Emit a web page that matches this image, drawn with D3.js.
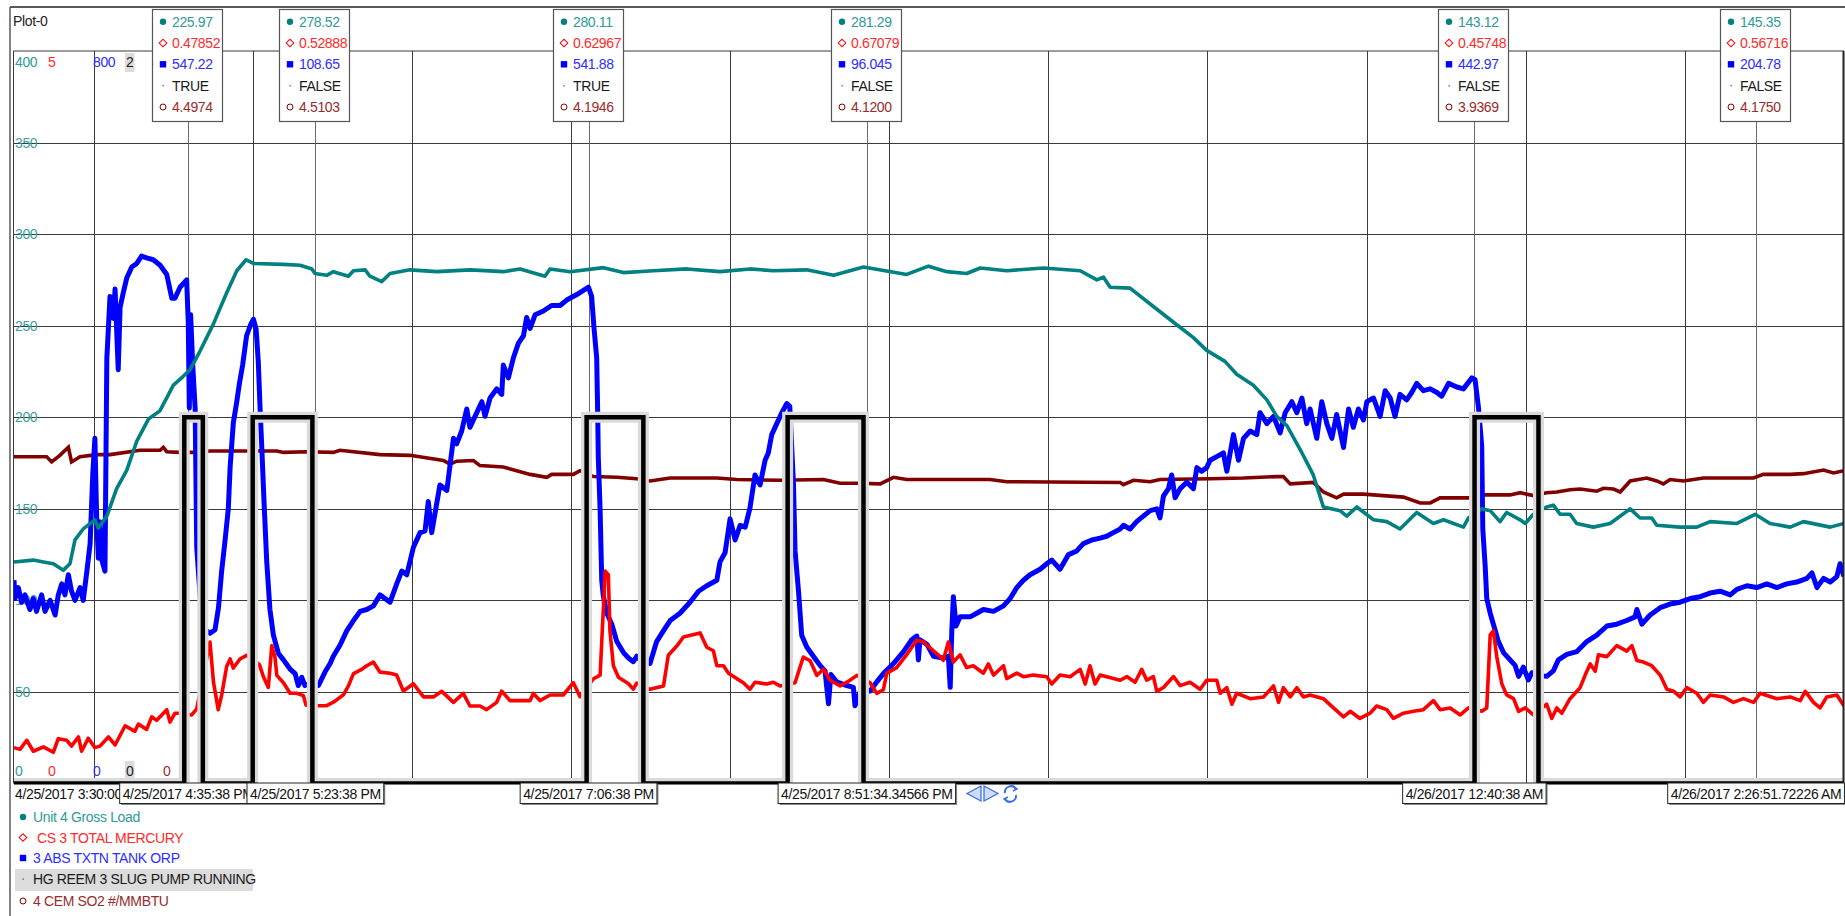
<!DOCTYPE html>
<html>
<head>
<meta charset="utf-8">
<script src="https://cdn.jsdelivr.net/npm/d3@7"></script>
<style>
  body { margin: 0; background: #fff; }
  svg { display: block; font-family: "Liberation Sans", Arial, sans-serif; }
  svg text { letter-spacing: -0.35px; }
</style>
</head>
<body>
<div id="trend"></div>
<script>
// time window of the trend, series times are minutes after startTime
const startTime = new Date(2017, 3, 25, 15, 30, 0);
const endTime = new Date(2017, 3, 26, 3, 0, 0);
const startLabel = "4/25/2017 3:30:00";

const seriesNames = ["Unit 4 Gross Load", "CS 3 TOTAL MERCURY", "3 ABS TXTN TANK ORP", "HG REEM 3 SLUG PUMP RUNNING", "4 CEM SO2 #/MMBTU"];
const lineColors = ["#008080", "#ff0000", "#0000ff", "#000000", "#800000"];
const textColors = ["#2f9a9a", "#ff2a2a", "#2e2eff", "#1a1a1a", "#982c2c"];
const scaleMax = [400, 5, 800, 2, 10];
const scaleMin = [0, 0, 0, 0, 0];
const loadTicks = [50, 100, 150, 200, 250, 300, 350];

// cursors and their readouts
const cursorLabels = ["4/25/2017 4:35:38 PM", "4/25/2017 5:23:38 PM", "4/25/2017 7:06:38 PM", "4/25/2017 8:51:34.34566 PM", "4/26/2017 12:40:38 AM", "4/26/2017 2:26:51.72226 AM"];
const loadRead = ["225.97", "278.52", "280.11", "281.29", "143.12", "145.35"];
const hgRead = ["0.47852", "0.52888", "0.62967", "0.67079", "0.45748", "0.56716"];
const orpRead = ["547.22", "108.65", "541.88", "96.045", "442.97", "204.78"];
const pumpRead = ["TRUE", "FALSE", "TRUE", "FALSE", "FALSE", "FALSE"];
const so2Read = ["4.4974", "4.5103", "4.1946", "4.1200", "3.9369", "4.1750"];

// Unit 4 Gross Load [minute, MW]
const loadPts = [[0,121],[7.3,122],[11.1,121],[14.8,120],[18.6,116.5],[21.1,120],[23,133],[26.1,139],[30.5,144],[31.8,139.5],[35,146],[38.7,161],[42.5,171],[46.3,187],[50.7,199],[55,203.5],[60.1,217.5],[63.9,222.5],[66.4,226],[70.1,236],[75.2,251],[80.2,268],[84,280],[87.5,286],[90.2,284],[101.6,283.5],[107.9,283],[112.3,281],[113.5,278.5],[117.9,277.5],[120.4,279.5],[126.1,277],[128,280],[132.4,280.5],[134.2,277],[138.6,274],[141.8,278.5],[149.3,280.5],[159.4,279.5],[172,280.5],[184.5,279.5],[190.8,281],[200.2,277],[202.1,281],[209.7,279.5],[222.2,281.7],[229.8,279],[241.1,280],[253.7,281],[266.2,279.5],[277.5,281],[286.3,280],[298.9,280.5],[309,277.5],[320.3,282],[336.6,278],[344.8,282.5],[351.7,279.5],[359.2,278.5],[364.3,281.5],[374.3,280],[388.2,281.5],[402,280],[408.3,275],[410.8,276.5],[413.3,271],[420.8,270.5],[429.6,260.5],[438.4,250.5],[444.7,243.5],[449.7,236.5],[456.6,230.5],[461,223.5],[467.3,217.5],[472.4,209.5],[476.1,200.5],[479.9,195.5],[484.9,182.5],[489.9,168.5],[493.7,151],[500,149],[502.5,146],[506.3,151],[512.6,144],[517.6,143],[522.6,139],[528.9,148],[535.2,142],[539,144],[546.5,140],[548.4,145],[553.4,150],[556.6,149],[560.3,143],[562.8,148],[567.9,144],[569.8,142],[572.9,147],[577.9,151],[580.4,152],[583,147],[586.7,147],[589.2,142],[595.5,140],[601.8,142],[609.4,150],[613.1,145],[617.5,145],[619.4,141],[628.2,140],[634.5,140],[639.5,143],[649.6,142],[656.5,147],[662.1,142],[669.7,140],[674.7,143],[684.8,140],[690,142]];

// CS 3 TOTAL MERCURY [minute, value]
const hgPts = [[0,0.245],[2.3,0.233],[4.8,0.295],[7.3,0.22],[11.1,0.25],[14.8,0.213],[16.7,0.306],[19.9,0.295],[21.7,0.256],[24.3,0.318],[25.5,0.22],[28,0.309],[30.5,0.245],[32.4,0.255],[35.6,0.318],[38.1,0.263],[41.9,0.394],[45.6,0.356],[46.9,0.406],[50,0.369],[51.9,0.455],[53.8,0.431],[57.6,0.504],[58.8,0.419],[60.7,0.48],[62.6,0.48],[67,0.468],[68.9,0.509],[73.9,0.965],[75.2,0.694],[77,0.504],[78.3,0.603],[80.2,0.8],[81.5,0.85],[82.7,0.788],[85.2,0.85],[87.7,0.875],[92.5,0.813],[94,0.731],[95.9,0.656],[97.2,0.941],[98.4,0.863],[99.1,0.738],[101.6,0.688],[104.1,0.616],[106.6,0.616],[109.1,0.6],[110.1,0.535],[114.8,0.531],[117.9,0.531],[120.4,0.555],[124.2,0.605],[126.1,0.666],[128,0.75],[131.1,0.779],[133,0.804],[135.5,0.829],[138,0.76],[141.8,0.753],[144.3,0.74],[146.8,0.631],[150.6,0.681],[154.4,0.591],[158.1,0.591],[161.3,0.629],[165.7,0.554],[169.4,0.615],[171.9,0.529],[175.7,0.529],[178.2,0.504],[182,0.554],[183.9,0.631],[187,0.566],[194.6,0.566],[195.8,0.615],[198.3,0.566],[202.1,0.604],[207.1,0.604],[210.9,0.688],[213.4,0.593],[218.5,0.715],[221,0.74],[222.9,1.45],[224.1,1.425],[224.7,1.041],[226,0.804],[227.9,0.725],[231.7,0.681],[233.5,0.644],[234.8,0.685],[239.8,0.643],[244.9,0.666],[246.7,0.875],[249.9,0.938],[252.4,1.0],[258.7,1.028],[261.2,0.93],[263.7,0.906],[265,0.804],[267.5,0.804],[269.4,0.753],[272.5,0.716],[275,0.688],[277.5,0.643],[279.4,0.691],[283.8,0.679],[286.3,0.691],[288.8,0.666],[294.5,0.688],[297.6,0.863],[300.2,0.838],[302.7,0.738],[305.2,0.78],[307.7,0.705],[311.5,0.666],[315.2,0.705],[317.8,0.738],[322.8,0.688],[325.3,0.615],[327.8,0.64],[329.1,0.753],[332.8,0.791],[336.6,0.879],[340.4,0.979],[342.9,0.966],[346.7,0.905],[349.2,0.866],[350.4,0.841],[352.3,0.966],[354.2,0.829],[356.7,0.878],[359.2,0.791],[361.7,0.804],[365.5,0.753],[367.4,0.816],[369.3,0.74],[373.1,0.804],[374.3,0.716],[378.1,0.753],[380.6,0.729],[384.4,0.74],[389.4,0.729],[391.3,0.679],[394.4,0.74],[398.2,0.729],[402,0.779],[403.9,0.679],[405.7,0.804],[407.6,0.679],[409.5,0.74],[417.1,0.705],[419.6,0.73],[422.7,0.691],[425.2,0.779],[427.1,0.705],[429.6,0.73],[430.9,0.629],[433.4,0.655],[437.2,0.73],[439.7,0.668],[443.4,0.691],[447.2,0.643],[449.7,0.705],[453.5,0.705],[454.8,0.616],[457.3,0.654],[459.2,0.541],[461,0.616],[466.1,0.579],[471.1,0.591],[474.9,0.666],[476.8,0.554],[478.6,0.654],[481.2,0.591],[483.7,0.654],[486.2,0.591],[488.7,0.604],[493.7,0.579],[497.5,0.516],[501.3,0.455],[503.8,0.493],[507.5,0.444],[511.3,0.48],[513.8,0.529],[517.6,0.504],[520.1,0.444],[523.9,0.48],[527.7,0.493],[531.4,0.504],[535.2,0.566],[537.7,0.504],[541.5,0.516],[545.3,0.468],[548.4,0.516],[553.4,0.493],[555.3,0.516],[556.6,1.015],[557.8,1.041],[559.1,0.863],[561,0.679],[562.8,0.605],[565.4,0.579],[567.3,0.493],[569.8,0.516],[572.9,0.468],[577.9,0.541],[579.8,0.444],[581.7,0.516],[583.6,0.48],[586.7,0.579],[590.5,0.654],[592.4,0.74],[594.3,0.816],[596.2,0.766],[597.4,0.878],[600.6,0.866],[604.3,0.941],[608.1,0.904],[610,0.941],[611.9,0.84],[614.4,0.829],[617.5,0.804],[620.7,0.74],[623.2,0.643],[625.7,0.63],[628.2,0.591],[630.7,0.654],[634.5,0.616],[637,0.554],[639.5,0.604],[644.6,0.591],[648.3,0.554],[652.1,0.579],[655.9,0.554],[658.4,0.616],[664.7,0.579],[669.7,0.591],[673.5,0.566],[675.4,0.629],[678.5,0.554],[681,0.516],[683.5,0.591],[687.3,0.604],[690,0.529]];

// 3 ABS TXTN TANK ORP [minute, mV]
const orpPts = [[0,222],[0.4,202],[1.6,214],[2.9,198],[4.1,206],[6,190],[7.3,202],[8.5,188],[10.4,206],[11.7,188],[13.6,200],[15.5,184],[16.7,206],[18,218],[19.2,206],[20.5,228],[21.7,210],[23,200],[24.9,214],[26.1,200],[27.4,230],[28.7,262],[29.7,338],[30.5,377],[31.2,286],[31.8,246],[32.4,286],[33.1,244],[34.3,232],[35,464],[36.2,532],[37.5,508],[38.1,540],[39.3,452],[40,520],[41.2,536],[42.5,552],[44.4,564],[46.3,568],[48.1,576],[50,574],[52.5,572],[55.1,566],[57.6,556],[59.5,530],[60.7,530],[62.6,542],[65.1,550],[65.7,504],[66.1,410],[66.6,512],[67.4,456],[68.3,410],[68.9,258],[71,170],[73.9,164],[75.8,168],[77.1,192],[78.3,232],[79.6,266],[80.8,300],[81.5,346],[82.7,394],[84,417],[85,437],[86.2,457],[87.7,489],[89.2,501],[90.3,507],[91.3,496],[92.1,461],[92.8,409],[93.4,369],[94.3,306],[95.3,242],[96.5,190],[97.8,162],[99.7,142],[101.6,135],[104.1,125],[106,120],[107.2,107],[108.5,116],[109.7,107],[112,110],[114.8,107],[117.3,122],[119.2,131],[120.4,139],[122.9,151],[125.5,167],[128,178],[130.5,188],[133,190],[135.5,194],[138,206],[141.8,198],[144.3,218],[146.2,232],[148.1,228],[150.6,258],[153.1,274],[155,276],[156.2,308],[157.5,274],[158.8,296],[160.6,326],[163.2,320],[165.7,377],[166.9,371],[168.8,385],[170.7,409],[171.9,389],[174.5,405],[176.4,417],[177.6,401],[179.5,421],[182,431],[183.9,425],[184.5,457],[186.4,443],[188.3,465],[190.2,481],[192.1,489],[193.3,509],[194.6,497],[196.5,512],[199.6,516],[202.7,522],[205.9,522],[208.4,528],[212.2,534],[216.6,542],[217.8,532],[218.7,497],[219.7,465],[220.1,401],[220.3,357],[221,298],[221.6,222],[222.2,205],[223.5,186],[225.4,174],[227.3,155],[229.8,143],[231.7,137],[233.5,133],[234.8,139],[237,132],[239.8,131],[242.3,155],[244.9,167],[247.4,178],[251.1,186],[254.9,198],[258.1,210],[261.2,216],[265,222],[266.2,242],[268.1,252],[270,289],[271.9,266],[273.8,282],[275.7,280],[277.5,301],[279.4,337],[281.3,326],[283.2,353],[284.4,361],[285.7,381],[287.6,393],[289.5,405],[291.4,415],[292.5,412],[293.9,327],[294.5,254],[295.8,210],[297,162],[298.9,149],[301.4,139],[303.9,129],[305.8,123],[307.1,87],[308,119],[310.2,111],[314,107],[316.5,105],[317.1,85],[319,100],[322.8,101],[325.3,111],[327.8,120],[331.6,131],[335.4,144],[338.5,157],[340.4,161],[341,135],[341.6,157],[344.2,152],[346.7,139],[350.4,137],[352.3,139],[353,105],[353.6,167],[354.2,204],[355.2,172],[356.7,182],[360.5,182],[363,186],[365.5,190],[369.3,188],[373.1,194],[375.6,202],[378.1,214],[380.6,222],[383.1,228],[386.9,234],[389.4,240],[391.3,244],[394.4,234],[397.6,250],[400.7,254],[403.2,262],[406.4,266],[409.5,268],[412,270],[414.5,274],[417.1,278],[418.3,282],[420.8,278],[423.3,286],[425.8,292],[428.4,298],[430.9,300],[432.1,290],[433.4,314],[435.3,322],[436.5,337],[437.8,312],[439.7,322],[442.2,329],[444.7,322],[446,345],[447.8,341],[449.7,345],[451,353],[453.5,357],[456,361],[457.3,341],[459.8,381],[461.7,353],[463.6,377],[466.1,385],[468.6,381],[469.8,405],[472.4,393],[474.9,401],[477.4,383],[479.3,405],[481.8,417],[483.7,405],[485.6,421],[487.4,393],[488.7,409],[491.2,377],[493.1,417],[495,393],[496.9,377],[498.7,403],[501.3,367],[503.2,409],[505,389],[506.9,409],[508.8,397],[510.1,417],[512.6,421],[515.1,401],[517,429],[518.9,421],[520.7,401],[522.6,425],[525.1,419],[527,427],[528.9,437],[531.4,429],[534,431],[536.5,427],[538.3,423],[540.9,437],[544,433],[546.5,431],[549.7,443],[550.9,441],[552.2,410],[553.4,369],[553.8,278],[554.7,238],[555.3,202],[556.6,186],[557.8,174],[559.7,155],[561.6,143],[564.1,135],[566,129],[567.3,117],[569.1,127],[571,113],[572.3,121],[575,118],[577.9,117],[580.4,123],[582.3,135],[585.5,141],[589.2,144],[593,155],[596.8,162],[600.6,172],[604.3,174],[608.1,178],[611.2,182],[611.9,190],[613.8,174],[616.9,184],[620.7,192],[624.4,196],[628.2,198],[632,202],[635.8,204],[639.5,208],[643.3,210],[647.1,206],[649.6,212],[653.4,216],[657.1,214],[660.9,218],[664.7,214],[668.4,218],[672.2,220],[676,224],[677.9,230],[679.8,214],[682.3,224],[684.8,220],[687.3,226],[688.5,240],[690,226]];

// HG REEM 3 SLUG PUMP RUNNING, state changes [minute], 0 = off, 1 = on
const pumpT = [0, 64.2, 71.2, 90, 112.5, 215.9, 237.3, 291.7, 320.3, 550.7, 574.8, 690];
const pumpV = [0, 1, 0, 1, 0, 1, 0, 1, 0, 1, 0, 0];

// 4 CEM SO2 #/MMBTU [minute, value]
const so2Pts = [[0,4.46],[12.3,4.46],[14.2,4.39],[17.3,4.48],[20.5,4.59],[21.7,4.39],[24.9,4.46],[31.2,4.49],[36.2,4.49],[47.5,4.55],[55.1,4.55],[56.3,4.59],[57.6,4.53],[62.6,4.52],[68.9,4.52],[73.9,4.54],[87.7,4.54],[99.1,4.54],[101.6,4.52],[110.4,4.53],[120.4,4.52],[122.9,4.55],[138,4.49],[149.3,4.48],[161.9,4.41],[164.4,4.36],[166.9,4.4],[173.2,4.41],[175.7,4.34],[184.5,4.32],[194.6,4.22],[200.9,4.18],[202.7,4.22],[210.9,4.22],[213.4,4.27],[218.5,4.19],[227.3,4.18],[234.8,4.16],[239.8,4.13],[247.4,4.17],[265,4.17],[272.5,4.15],[288.8,4.14],[305.2,4.15],[311.5,4.1],[317.8,4.1],[326.6,4.09],[331.6,4.18],[336.6,4.15],[368,4.15],[374.3,4.12],[417.1,4.11],[418.3,4.08],[422.1,4.14],[428.4,4.12],[432.1,4.15],[451,4.16],[463.6,4.17],[476.1,4.19],[478.6,4.19],[481.2,4.09],[489.9,4.11],[493.7,3.98],[498.7,3.9],[501.3,3.95],[508.8,3.95],[520.1,3.92],[523.9,3.91],[530.2,3.83],[534,3.83],[537.7,3.9],[548.4,3.9],[553.4,3.94],[564.1,3.94],[567.9,3.97],[572.9,3.93],[577.9,3.97],[581.7,3.98],[586.7,4.01],[590.5,4.02],[596.8,3.99],[599.3,4.03],[603.1,4.02],[605.6,3.98],[609.4,4.13],[615.6,4.17],[619.4,4.13],[621.9,4.09],[624.4,4.15],[629.5,4.13],[637,4.17],[655.9,4.17],[659.6,4.22],[669.7,4.22],[674.7,4.23],[682.3,4.28],[686,4.24],[690,4.27]];

const W = 1845, H = 916;
const fs = 14;
const plot = { left: 13, right: 1844, top: 51, bottom: 783.5 };
const toDate = m => new Date(+startTime + m * 60000);
const parseCursor = d3.timeParse("%m/%d/%Y %I:%M:%S %p");

const svg = d3.select("#trend").append("svg").attr("width", W).attr("height", H);

const x = d3.scaleTime().domain([startTime, endTime]).range([14, 1844]);
// one y scale per pen, all on the same pixel range
const yScales = scaleMax.map((mx, i) => d3.scaleLinear().domain([scaleMin[i], mx]).range([plot.bottom, plot.top]));
const yLoad = yScales[0];

// outer frame
svg.append("line").attr("x1", 10).attr("x2", W).attr("y1", 7).attr("y2", 7).attr("stroke", "#5a5a5a").attr("stroke-width", 2);
svg.append("line").attr("x1", 10).attr("x2", 10).attr("y1", 7).attr("y2", H).attr("stroke", "#5a5a5a").attr("stroke-width", 1.5);
svg.append("text").attr("x", 13).attr("y", 26).attr("font-size", fs).attr("fill", "#222").text("Plot-0");

// grid
const grid = svg.append("g");
grid.selectAll("line.h").data(loadTicks).join("line")
  .attr("x1", plot.left).attr("x2", plot.right)
  .attr("y1", d => Math.round(yLoad(d)) + 0.5).attr("y2", d => Math.round(yLoad(d)) + 0.5)
  .attr("stroke", "#3a3a3a").attr("stroke-width", 1);
grid.selectAll("line.v").data(x.ticks(d3.timeHour.every(1)).filter(d => d < endTime)).join("line")
  .attr("x1", d => Math.round(x(d)) + 0.5).attr("x2", d => Math.round(x(d)) + 0.5)
  .attr("y1", plot.top).attr("y2", plot.bottom)
  .attr("stroke", "#3a3a3a").attr("stroke-width", 1);

// scale labels of the load pen
svg.append("g").selectAll("text").data(loadTicks).join("text")
  .attr("x", 15).attr("y", d => yLoad(d) + 5)
  .attr("font-size", fs).attr("fill", "#3d9f9f").text(d => d);

// top and bottom of every pen scale (the SO2 top label sits under the first readout box)
const labelX = [15, 48, 93, 126, 163];
labelX.forEach((lx, i) => {
  if (i === 3) {
    svg.append("rect").attr("x", lx - 1).attr("y", 53).attr("width", 9.5).attr("height", 19).attr("fill", "#dcdcdc");
    svg.append("rect").attr("x", lx - 1).attr("y", 761).attr("width", 9.5).attr("height", 18).attr("fill", "#dcdcdc");
  }
  if (i !== 4) svg.append("text").attr("x", lx).attr("y", 66.5).attr("font-size", fs).attr("fill", textColors[i]).text(scaleMax[i]);
  svg.append("text").attr("x", lx).attr("y", 775.5).attr("font-size", fs).attr("fill", textColors[i]).text(scaleMin[i]);
});

// cursor lines
const cursorX = cursorLabels.map(s => x(parseCursor(s.replace(/\.\d+/, ""))));
svg.append("g").selectAll("line").data(cursorX).join("line")
  .attr("x1", d => Math.round(d) + 0.5).attr("x2", d => Math.round(d) + 0.5)
  .attr("y1", 122).attr("y2", plot.bottom)
  .attr("stroke", "#6a6a6a").attr("stroke-width", 1);

// pens
svg.append("clipPath").attr("id", "plotClip").append("rect")
  .attr("x", plot.left).attr("y", plot.top).attr("width", plot.right - plot.left).attr("height", plot.bottom - plot.top + 1);
const pens = svg.append("g").attr("clip-path", "url(#plotClip)");

function penLine(yScale) {
  return d3.line().x(d => x(toDate(d[0]))).y(d => yScale(d[1]));
}

// drawing order: SO2, ORP, mercury, load
pens.append("path").datum(so2Pts).attr("d", penLine(yScales[4]))
  .attr("fill", "none").attr("stroke", lineColors[4]).attr("stroke-width", 3.6);
pens.append("path").datum(orpPts).attr("d", penLine(yScales[2]))
  .attr("fill", "none").attr("stroke", lineColors[2]).attr("stroke-width", 5).attr("stroke-linejoin", "round");
pens.append("path").datum(hgPts).attr("d", penLine(yScales[1]))
  .attr("fill", "none").attr("stroke", lineColors[1]).attr("stroke-width", 3.6).attr("stroke-linejoin", "round");
pens.append("path").datum(loadPts).attr("d", penLine(yScales[0]))
  .attr("fill", "none").attr("stroke", lineColors[0]).attr("stroke-width", 3.6).attr("stroke-linejoin", "round");

// pump pen: step line with a light grey halo
const pumpPts = pumpT.map((t, i) => [t, pumpV[i]]);
const pumpLine = penLine(yScales[3]).curve(d3.curveStepAfter);
pens.append("path").datum(pumpPts).attr("d", pumpLine)
  .attr("fill", "none").attr("stroke", "#dadada").attr("stroke-width", 11);
pens.append("path").datum(pumpPts).attr("d", pumpLine)
  .attr("fill", "none").attr("stroke", "#000").attr("stroke-width", 4.5);

// plot border
svg.append("line").attr("x1", plot.left).attr("x2", plot.right).attr("y1", plot.top).attr("y2", plot.top).attr("stroke", "#3a3a3a");
svg.append("line").attr("x1", plot.left + 0.5).attr("x2", plot.left + 0.5).attr("y1", plot.top).attr("y2", plot.bottom).attr("stroke", "#3a3a3a");
svg.append("line").attr("x1", plot.right - 0.5).attr("x2", plot.right - 0.5).attr("y1", plot.top).attr("y2", plot.bottom).attr("stroke", "#222").attr("stroke-width", 2);

// symbols used in readouts and legend
function drawSymbol(g, i, cx, cy) {
  if (i === 0) g.append("circle").attr("cx", cx).attr("cy", cy).attr("r", 3.2).attr("fill", lineColors[0]);
  if (i === 1) g.append("rect").attr("x", cx - 2.7).attr("y", cy - 2.7).attr("width", 5.4).attr("height", 5.4)
    .attr("transform", `rotate(45 ${cx} ${cy})`).attr("fill", "#fff").attr("stroke", lineColors[1]).attr("stroke-width", 1);
  if (i === 2) g.append("rect").attr("x", cx - 3.2).attr("y", cy - 3.2).attr("width", 6.4).attr("height", 6.4).attr("fill", lineColors[2]);
  if (i === 3) g.append("rect").attr("x", cx - 0.5).attr("y", cy - 0.5).attr("width", 1.2).attr("height", 1.2).attr("fill", "#333");
  if (i === 4) g.append("circle").attr("cx", cx).attr("cy", cy).attr("r", 3).attr("fill", "#fff").attr("stroke", lineColors[4]).attr("stroke-width", 1);
}

// readout boxes on top
const rowY = [21.7, 43, 64.3, 85.7, 107];
cursorX.forEach((cx, k) => {
  const vals = [loadRead[k], hgRead[k], orpRead[k], pumpRead[k], so2Read[k]];
  const bx = Math.round(cx) - 36;
  const g = svg.append("g");
  g.append("rect").attr("x", bx + 0.5).attr("y", 9.5).attr("width", 70).attr("height", 112)
    .attr("fill", "#fff").attr("stroke", "#555").attr("stroke-width", 1.2);
  vals.forEach((v, i) => {
    drawSymbol(g, i, bx + 11, rowY[i]);
    g.append("text").attr("x", bx + 20).attr("y", rowY[i] + 5)
      .attr("font-size", fs).attr("fill", textColors[i]).text(v);
  });
});

// time labels along the bottom
svg.append("text").attr("x", 15).attr("y", 798.5).attr("font-size", fs).attr("fill", "#111").text(startLabel);
cursorX.forEach((cx, k) => {
  const g = svg.append("g");
  const shadow = g.append("rect");
  const box = g.append("rect");
  const t = g.append("text").attr("x", cx).attr("y", 798.5).attr("text-anchor", "middle")
    .attr("font-size", fs).attr("fill", "#111").text(cursorLabels[k]);
  const w = t.node().getComputedTextLength() + 6;
  shadow.attr("x", cx - w / 2 + 1.5).attr("y", 784.5).attr("width", w).attr("height", 20.5).attr("fill", "#8a8a8a");
  box.attr("x", cx - w / 2).attr("y", 783).attr("width", w).attr("height", 20.5)
    .attr("fill", "#fff").attr("stroke", "#222").attr("stroke-width", 1);
});

// scroll arrows and refresh icon
const nav = svg.append("g").attr("stroke", "#3b6fe0").attr("stroke-width", 1.3).attr("fill", "#cddcff");
nav.append("path").attr("d", "M967,793.5 L981,786 L981,801 Z");
nav.append("path").attr("d", "M984,786 L998,793.5 L984,801 Z");
const refresh = svg.append("g").attr("fill", "none").attr("stroke", "#3b6fe0").attr("stroke-width", 2);
refresh.append("path").attr("d", "M1005,793 A6,6 0 0 1 1016,789");
refresh.append("path").attr("d", "M1016,795 A6,6 0 0 1 1005,799");
refresh.append("path").attr("d", "M1013,786 L1017,789 L1013,791").attr("stroke-width", 1.5);
refresh.append("path").attr("d", "M1008,797 L1004,799 L1008,802").attr("stroke-width", 1.5);

// legend
const legendY = [817, 837.5, 858, 879, 901];
const legend = svg.append("g");
legend.append("rect").attr("x", 15).attr("y", 869).attr("width", 238).attr("height", 22).attr("fill", "#dcdcdc");
seriesNames.forEach((name, i) => {
  drawSymbol(legend, i, 23, legendY[i]);
  legend.append("text").attr("x", i === 1 ? 37 : 33).attr("y", legendY[i] + 5)
    .attr("font-size", fs).attr("fill", textColors[i]).text(name);
});
</script>
</body>
</html>
